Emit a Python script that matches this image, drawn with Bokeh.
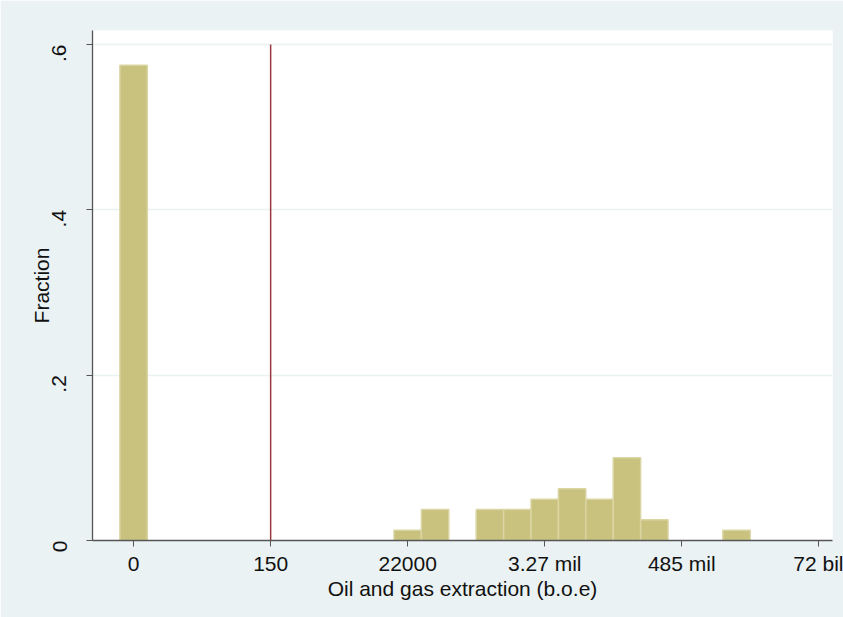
import math
from bokeh.plotting import figure
from bokeh.models import FixedTicker, Range1d
from bokeh.embed import file_html
from bokeh.resources import INLINE

# Histogram of ln(1 + oil and gas extraction), bins of width 1
bin_centers = [0, 10, 11, 13, 14, 15, 16, 17, 18, 19, 22]
fractions = [0.575, 0.0125, 0.0375, 0.0375, 0.0375, 0.05, 0.0625, 0.05, 0.1, 0.025, 0.0125]
bin_width = 1.0

x_ticks = [0, 5, 10, 15, 20, 25]
x_tick_labels = ["0", "150", "22000", "3.27 mil", "485 mil", "72 bil"]
y_ticks = [0, 0.2, 0.4, 0.6]
y_tick_labels = ["0", ".2", ".4", ".6"]

cutoff_x = [5]          # ln(1 + 150)
cutoff_top = [0.6]

FONT = "Liberation Sans"
BG = "#EAF2F3"

p = figure(width=843, height=617, output_backend="svg", toolbar_location=None,
           x_range=Range1d(-1.5, 25.5), y_range=Range1d(0, 0.617),
           min_border_left=92, min_border_right=11, min_border_top=30, min_border_bottom=77)
p.border_fill_color = BG
p.background_fill_color = "white"
p.outline_line_color = None

p.vbar(x=bin_centers, top=fractions, width=bin_width, bottom=0,
       fill_color="#C9C27E", line_color="#DAD5A3", line_width=1.5)
p.segment(x0=cutoff_x, y0=[0], x1=cutoff_x, y1=cutoff_top,
          line_color="#99393F", line_width=1.5)

# grid
p.xgrid.visible = False
p.ygrid.grid_line_color = BG
p.ygrid.grid_line_width = 1.5
p.ygrid.ticker = FixedTicker(ticks=y_ticks)

# x axis
xa = p.xaxis[0]
xa.ticker = FixedTicker(ticks=x_ticks)
xa.major_label_overrides = {t: l for t, l in zip(x_ticks, x_tick_labels)}
xa.axis_label = "Oil and gas extraction (b.o.e)"
xa.minor_tick_line_color = None
xa.major_tick_in = 0
xa.major_tick_out = 6
xa.major_label_standoff = 5
xa.axis_label_standoff = -1
xa.axis_line_color = "#555555"
xa.major_tick_line_color = "#555555"
xa.axis_line_width = 1.3

# y axis
ya = p.yaxis[0]
ya.ticker = FixedTicker(ticks=y_ticks)
ya.major_label_overrides = {t: l for t, l in zip(y_ticks, y_tick_labels)}
ya.axis_label = "Fraction"
ya.minor_tick_line_color = None
ya.major_tick_in = 0
ya.major_tick_out = 6
ya.major_label_orientation = math.pi / 2
ya.major_label_standoff = 27
ya.axis_label_standoff = -10
ya.axis_line_color = "#555555"
ya.major_tick_line_color = "#555555"
ya.axis_line_width = 1.3

for ax in (xa, ya):
    ax.major_label_text_font = FONT
    ax.major_label_text_font_size = "21px"
    ax.major_label_text_color = "#111111"
    ax.axis_label_text_font = FONT
    ax.axis_label_text_font_size = "21px"
    ax.axis_label_text_font_style = "normal"
    ax.axis_label_text_color = "#111111"

open("out.html", "w").write(file_html(p, INLINE))
